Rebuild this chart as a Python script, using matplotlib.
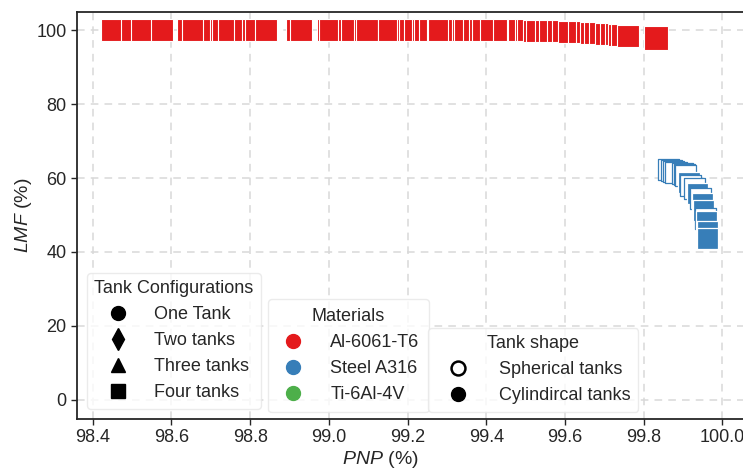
import matplotlib
matplotlib.use("Agg")
import matplotlib.pyplot as plt
from matplotlib.lines import Line2D

plt.rcParams['font.family'] = ['Liberation Sans', 'DejaVu Sans']
plt.rcParams['mathtext.fontset'] = 'custom'
plt.rcParams['mathtext.it'] = 'Liberation Sans:italic'
plt.rcParams['mathtext.rm'] = 'Liberation Sans'

# Al-6061-T6, four cylindrical tanks
red_pnp = [98.448, 98.499, 98.524, 98.577, 98.641, 98.654, 98.707, 98.725, 98.732, 98.745,
           98.788, 98.806, 98.814, 98.839, 98.918, 98.928, 98.997, 99.004, 99.050, 99.060,
           99.091, 99.098, 99.152, 99.200, 99.205, 99.220, 99.238, 99.243, 99.258, 99.276,
           99.279, 99.330, 99.340, 99.347, 99.368, 99.383, 99.391, 99.411, 99.444, 99.480,
           99.482, 99.500, 99.507, 99.520, 99.530, 99.551, 99.563, 99.581, 99.596, 99.609,
           99.635, 99.657, 99.665, 99.675, 99.690, 99.703, 99.716, 99.729, 99.736, 99.746,
           99.759]
red_lmf = [100.0] * 39 + [99.95, 99.95, 99.9, 99.9, 99.85, 99.8, 99.75, 99.7, 99.65, 99.6,
                          99.55, 99.5, 99.4, 99.3, 99.2, 99.1, 99.0, 98.9, 98.8, 98.7, 98.6,
                          98.5]
red_last_pnp = [99.830]
red_last_lmf = [97.8]

# Steel A316
blue_pnp = [99.863, 99.870, 99.876, 99.882, 99.898, 99.903, 99.906, 99.915, 99.919, 99.928,
            99.936, 99.945, 99.949, 99.951, 99.957, 99.960, 99.962, 99.963]
blue_lmf = [62.2, 62.0, 61.8, 61.6, 61.1, 61.0, 60.7, 58.9, 58.0, 57.1,
            55.7, 54.4, 53.0, 51.2, 49.0, 48.1, 45.6, 43.6]
# True = cylindrical (filled), False = spherical (open)
blue_cyl = [False, False, False, False, False, False, False, True, False, False,
            True, False, True, True, False, True, True, True]

config_labels = ["One Tank", "Two tanks", "Three tanks", "Four tanks"]
config_markers = ["o", "d", "^", "s"]
material_labels = ["Al-6061-T6", "Steel A316", "Ti-6Al-4V"]
material_colors = ["#e41a1c", "#377eb8", "#4daf4a"]
shape_labels = ["Spherical tanks", "Cylindircal tanks"]

ink = "#262626"
fig = plt.figure(figsize=(7.43, 4.72), dpi=100)
ax = fig.add_axes([77 / 743, 53 / 472, 673 / 743, 407.3 / 472])

ax.scatter(red_pnp, red_lmf, s=240, marker='s', facecolor=material_colors[0],
           edgecolor='white', linewidth=0.8, zorder=3)
ax.scatter(red_last_pnp, red_last_lmf, s=290, marker='s', facecolor=material_colors[0],
           edgecolor='white', linewidth=0.8, zorder=3)
face = [material_colors[1] if c else 'white' for c in blue_cyl]
edge = ['white' if c else material_colors[1] for c in blue_cyl]
ax.scatter(blue_pnp, blue_lmf, s=230, marker='s', facecolors=face, edgecolors=edge,
           linewidth=0.9, zorder=3)

ax.set_xlim(98.360, 100.070)
ax.set_ylim(-5.14, 104.95)
ax.set_xticks([98.4, 98.6, 98.8, 99.0, 99.2, 99.4, 99.6, 99.8, 100.0])
ax.set_yticks([0, 20, 40, 60, 80, 100])
ax.tick_params(labelsize=13, colors=ink, length=4, width=1.0, direction='out')
ax.grid(True, color='#d9d9d9', linestyle=(0, (5, 4)), linewidth=1.1)
ax.set_axisbelow(True)
for sp in ax.spines.values():
    sp.set_color(ink)
    sp.set_linewidth(1.3)
ax.set_xlabel(r"$\it{PNP}$ (%)", fontsize=14, color=ink)
ax.xaxis.set_label_coords((380 - 77) / 673, -0.074)
ax.set_ylabel(r"$\it{LMF}$ (%)", fontsize=14, color=ink, labelpad=1.5)

leg_kw = dict(fontsize=13, title_fontsize=13, frameon=True, framealpha=0.8,
              edgecolor='#e6e6e6', fancybox=True, loc='upper left', borderaxespad=0,
              labelspacing=0.5)

h1 = [Line2D([], [], ls='', marker=m, color='black', markersize=10 if m != 'd' else 11)
      for m in config_markers]
leg1 = ax.legend(h1, config_labels, title="Tank Configurations",
                 bbox_to_anchor=(0.0149, 0.3585), handlelength=2.2, handletextpad=0.9,
                 borderpad=0.4, **leg_kw)
ax.add_artist(leg1)

h2 = [Line2D([], [], ls='', marker='o', color=c, markersize=10) for c in material_colors]
leg2 = ax.legend(h2, material_labels, title="Materials",
                 bbox_to_anchor=(0.2838, 0.2946), handlelength=1.8, handletextpad=1.15,
                 borderpad=0.5, **leg_kw)
ax.add_artist(leg2)

h3 = [Line2D([], [], ls='', marker='o', markerfacecolor='white', markeredgecolor='black',
             markeredgewidth=1.8, markersize=10),
      Line2D([], [], ls='', marker='o', color='black', markersize=10)]
leg3 = ax.legend(h3, shape_labels, title="Tank shape",
                 bbox_to_anchor=(0.5215, 0.2234), handlelength=2.5, handletextpad=1.05,
                 borderpad=0.4, **leg_kw)

for lg in (leg1, leg2, leg3):
    for t in lg.get_texts():
        t.set_color(ink)
    lg.get_title().set_color(ink)
    lg.set_zorder(5)

fig.savefig("out.png", dpi=100)
